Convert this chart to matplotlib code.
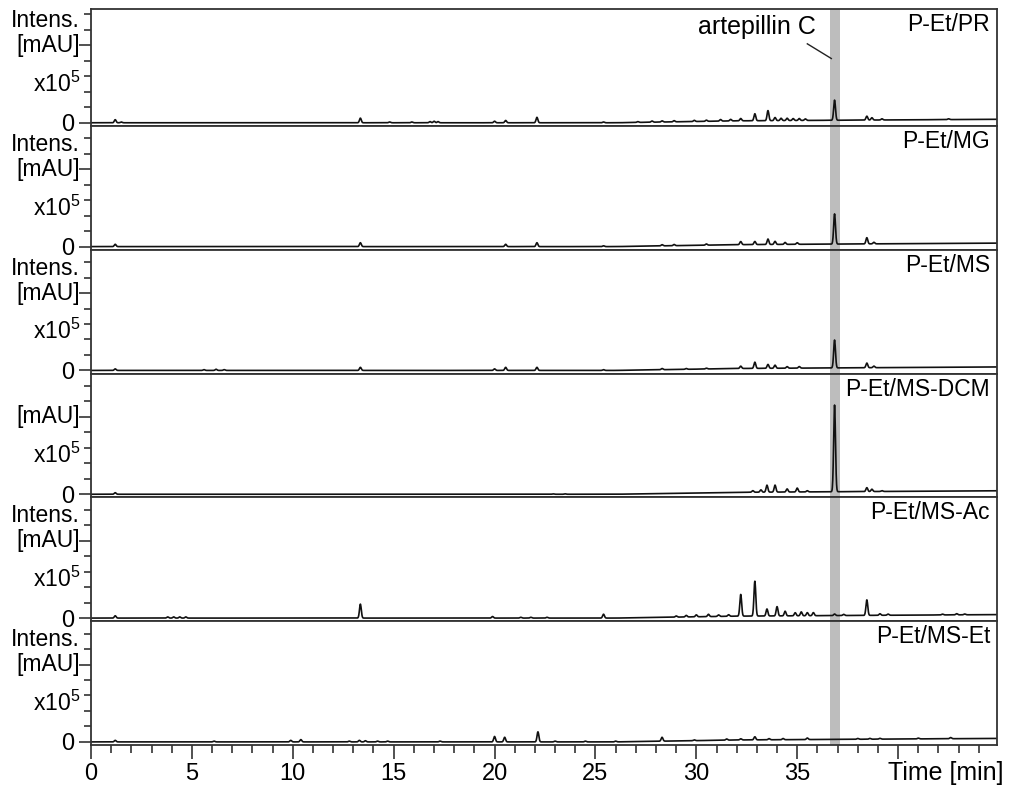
import numpy as np
import matplotlib
matplotlib.use('Agg')
import matplotlib.pyplot as plt
from matplotlib.ticker import MultipleLocator, FixedLocator, FixedFormatter

plt.rcParams['font.family'] = ['Liberation Sans', 'DejaVu Sans']
plt.rcParams['mathtext.fontset'] = 'custom'
plt.rcParams['mathtext.rm'] = 'Liberation Sans'
plt.rcParams['mathtext.it'] = 'Liberation Sans'

# ---------------- data ----------------
samples = ['P-Et/PR', 'P-Et/MG', 'P-Et/MS', 'P-Et/MS-DCM', 'P-Et/MS-Ac', 'P-Et/MS-Et']
show_intens = [True, True, True, False, True, True]

# retention time [min] and peak height [x10^5 mAU]
pr_rt = [1.2, 1.5, 13.35, 14.8, 15.9, 16.8, 17.0, 17.2, 20.0, 20.55, 22.1, 25.4, 27.1, 27.8, 28.3,
         28.9, 29.9, 30.5, 31.2, 31.7, 32.2, 32.9, 33.55, 33.9, 34.2, 34.5, 34.8, 35.1, 35.4,
         36.85, 38.45, 38.7, 39.2, 42.5]
pr_h = [0.04, 0.01, 0.06, 0.01, 0.01, 0.015, 0.02, 0.015, 0.02, 0.03, 0.07, 0.01, 0.01, 0.015, 0.015,
        0.015, 0.015, 0.015, 0.02, 0.02, 0.03, 0.09, 0.13, 0.04, 0.03, 0.03, 0.025, 0.025, 0.02,
        0.26, 0.05, 0.03, 0.015, 0.01]

mg_rt = [1.2, 13.35, 20.55, 22.1, 25.4, 28.3, 28.9, 30.5, 32.2, 32.9, 33.55, 33.9, 34.4, 35.0,
         36.85, 38.45, 38.8]
mg_h = [0.03, 0.05, 0.03, 0.05, 0.01, 0.015, 0.015, 0.015, 0.04, 0.04, 0.07, 0.04, 0.025, 0.02,
        0.39, 0.08, 0.02]

ms_rt = [1.2, 5.6, 6.2, 6.6, 13.35, 20.0, 20.55, 22.1, 25.4, 28.3, 29.5, 30.5, 32.2, 32.9, 33.55,
         33.9, 34.5, 35.1, 36.85, 38.45, 38.8]
ms_h = [0.02, 0.01, 0.015, 0.01, 0.04, 0.02, 0.04, 0.04, 0.01, 0.015, 0.01, 0.01, 0.03, 0.08, 0.05,
        0.04, 0.02, 0.02, 0.36, 0.06, 0.02]

dcm_rt = [1.2, 22.9, 23.5, 32.8, 33.2, 33.5, 33.9, 34.5, 35.0, 35.5, 36.85, 38.45, 38.7, 39.2]
dcm_h = [0.02, 0.005, 0.005, 0.02, 0.03, 0.09, 0.09, 0.04, 0.05, 0.015, 1.12, 0.05, 0.03, 0.01]

ac_rt = [1.2, 3.8, 4.1, 4.4, 4.7, 13.35, 19.9, 21.3, 21.8, 22.6, 25.4, 29.0, 29.5, 30.0, 30.6,
         31.1, 31.6, 32.2, 32.9, 33.5, 34.0, 34.4, 34.9, 35.2, 35.5, 35.8, 36.85, 37.3, 38.45,
         39.1, 39.5, 42.2, 42.9, 43.3]
ac_h = [0.03, 0.015, 0.015, 0.015, 0.015, 0.18, 0.02, 0.01, 0.01, 0.01, 0.05, 0.015, 0.02, 0.025, 0.03,
        0.02, 0.02, 0.28, 0.45, 0.09, 0.12, 0.06, 0.04, 0.05, 0.04, 0.04, 0.02, 0.015, 0.20,
        0.02, 0.015, 0.01, 0.015, 0.01]

et_rt = [1.2, 6.1, 9.9, 10.4, 12.8, 13.3, 13.6, 14.2, 14.7, 17.3, 20.0, 20.5, 22.15, 23.0, 24.5,
         26.0, 28.3, 29.9, 31.5, 32.2, 32.9, 33.6, 34.3, 35.5, 38.0, 38.6, 39.1, 41.0, 42.6]
et_h = [0.02, 0.01, 0.02, 0.03, 0.01, 0.02, 0.015, 0.01, 0.01, 0.01, 0.07, 0.06, 0.13, 0.01, 0.01,
        0.01, 0.05, 0.01, 0.015, 0.015, 0.04, 0.015, 0.015, 0.02, 0.01, 0.01, 0.01, 0.01, 0.015]

# baseline drift of the gradient (time, level)
drift_t = [0, 26, 32, 45]
drift_v = [0.0, 0.0, 0.025, 0.045]

peak_rt = [pr_rt, mg_rt, ms_rt, dcm_rt, ac_rt, et_rt]
peak_h = [pr_h, mg_h, ms_h, dcm_h, ac_h, et_h]

artepillin_rt = 36.87
x_ticks = [0, 5, 10, 15, 20, 25, 30, 35, 40]
x_ticklabels = ['0', '5', '10', '15', '20', '25', '30', '35', '']

# ---------------- figure ----------------
W, H = 1010, 785
fig = plt.figure(figsize=(W / 100, H / 100), dpi=100)
gs = fig.add_gridspec(6, 1, height_ratios=[1.51] + [1.60] * 5, hspace=0,
                      left=91 / W, right=997 / W, top=1 - 9 / H, bottom=1 - 745 / H)

t = np.arange(0, 45.001, 0.01)
sigma = 0.045
fs = 16.5
fs_tick = 17
fs_big = 18
frame_col = '#333333'

axes = []
for i in range(6):
    ax = fig.add_subplot(gs[i, 0])
    axes.append(ax)
    y = np.interp(t, drift_t, drift_v)
    for rt, h in zip(peak_rt[i], peak_h[i]):
        y = y + h * np.exp(-0.5 * ((t - rt) / sigma) ** 2)
    ax.axvspan(artepillin_rt - 0.23, artepillin_rt + 0.23, color='#bdbdbd', lw=0, zorder=0)
    ax.plot(t, y, color='#111111', lw=1.2, zorder=2)
    ax.set_xlim(0, 44.9)
    ax.set_ylim(-0.04, 1.47 if i == 0 else 1.56)
    for s in ax.spines.values():
        s.set_color(frame_col)
        s.set_linewidth(1.3)
    ax.yaxis.set_major_locator(FixedLocator([0, 1.0]))
    ax.yaxis.set_major_formatter(FixedFormatter(['0', '']))
    ax.yaxis.set_minor_locator(FixedLocator([0.2, 0.4, 0.6, 0.8, 1.2, 1.4]))
    ax.tick_params(axis='y', which='major', length=9, width=1.2, color=frame_col,
                   labelsize=fs_tick, pad=3, direction='out')
    ax.tick_params(axis='y', which='minor', length=5, width=1.2, color=frame_col, direction='out')
    if i < 5:
        ax.tick_params(axis='x', which='both', bottom=False, labelbottom=False)
    else:
        ax.set_xticks(x_ticks)
        ax.set_xticklabels(x_ticklabels)
        ax.xaxis.set_minor_locator(MultipleLocator(1))
        ax.tick_params(axis='x', which='major', length=10, width=1.2, color=frame_col,
                       labelsize=fs_tick, pad=3)
        ax.tick_params(axis='x', which='minor', length=6, width=1.2, color=frame_col)
    # y-axis label block
    if show_intens[i]:
        ax.annotate('Intens.', xy=(0, 1.32), xycoords=('axes fraction', 'data'),
                    xytext=(-11, 0), textcoords='offset pixels', ha='right', va='center',
                    fontsize=fs, annotation_clip=False)
    ax.annotate('[mAU]', xy=(0, 1.0), xycoords=('axes fraction', 'data'),
                xytext=(-11, 0), textcoords='offset pixels', ha='right', va='center',
                fontsize=fs, annotation_clip=False)
    ax.annotate(r'x10$^5$', xy=(0, 0.50), xycoords=('axes fraction', 'data'),
                xytext=(-11, 0), textcoords='offset pixels', ha='right', va='center',
                fontsize=fs, annotation_clip=False)
    ax.annotate(samples[i], xy=(1, 1), xycoords='axes fraction',
                xytext=(-7, -4), textcoords='offset pixels', ha='right', va='top',
                fontsize=fs)

# artepillin C label
axes[0].text(35.94, 1.15, 'artepillin C', ha='right', va='baseline', fontsize=fs_big)
axes[0].plot([35.5, 36.69], [1.02, 0.83], color='#222222', lw=1.0)

# x-axis title at lower right
axes[5].annotate('Time [min]', xy=(1, 0), xycoords='axes fraction',
                 xytext=(6, -28), textcoords='offset pixels', ha='right', va='center',
                 fontsize=fs_big, annotation_clip=False)

fig.savefig('out.png', dpi=100)
